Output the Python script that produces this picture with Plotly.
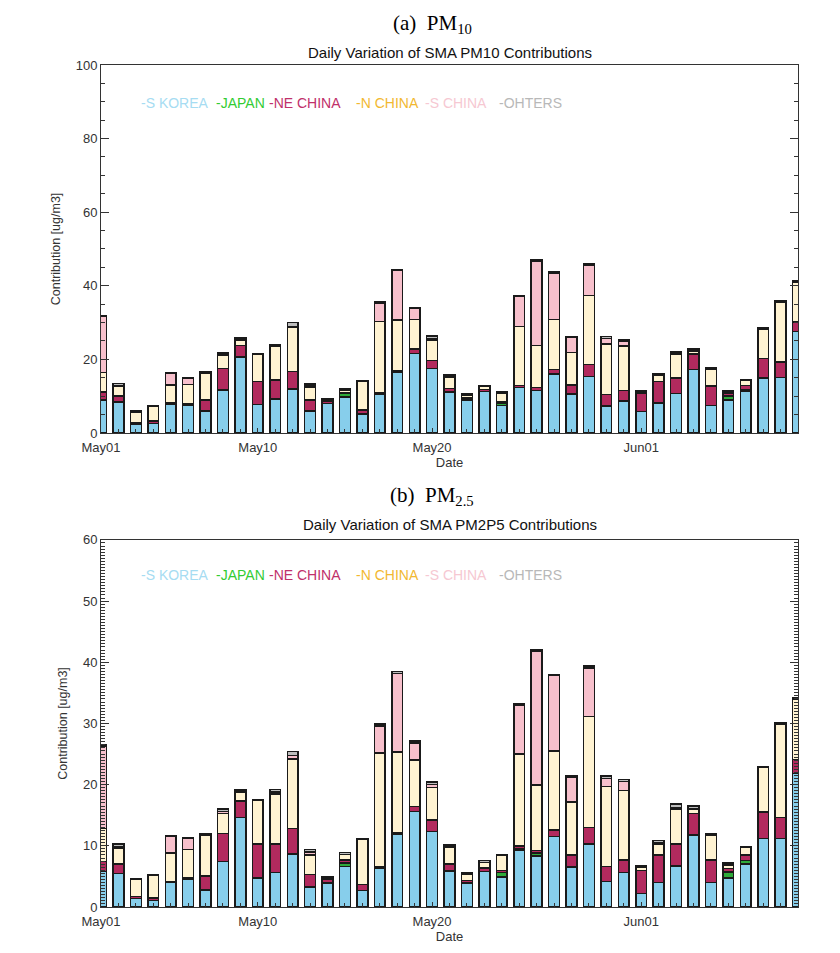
import plotly.graph_objects as go

dates = ["2016-05-01", "2016-05-02", "2016-05-03", "2016-05-04", "2016-05-05", "2016-05-06",
         "2016-05-07", "2016-05-08", "2016-05-09", "2016-05-10", "2016-05-11", "2016-05-12",
         "2016-05-13", "2016-05-14", "2016-05-15", "2016-05-16", "2016-05-17", "2016-05-18",
         "2016-05-19", "2016-05-20", "2016-05-21", "2016-05-22", "2016-05-23", "2016-05-24",
         "2016-05-25", "2016-05-26", "2016-05-27", "2016-05-28", "2016-05-29", "2016-05-30",
         "2016-05-31", "2016-06-01", "2016-06-02", "2016-06-03", "2016-06-04", "2016-06-05",
         "2016-06-06", "2016-06-07", "2016-06-08", "2016-06-09", "2016-06-10"]
tick_dates = ["2016-05-01", "2016-05-10", "2016-05-20", "2016-06-01"]
tick_labels = ["May01", "May10", "May20", "Jun01"]

sources = ["S KOREA", "JAPAN", "NE CHINA", "N CHINA", "S CHINA", "OHTERS"]

pm10_skorea = [8.9, 8.4, 2.5, 2.6, 7.8, 7.6, 5.9, 11.7, 20.7, 7.8, 9.2, 12.0, 6.0, 8.0, 9.8, 5.1, 10.6, 16.6, 21.6, 17.5, 11.1,
               8.9, 11.3, 7.4, 12.3, 11.6, 16.0, 10.6, 15.3, 7.3, 8.7, 5.8, 8.2, 10.7, 17.3, 7.4, 8.9, 11.4, 14.9, 15.1, 27.6]
pm10_japan = [0, 0.2, 0, 0, 0, 0, 0, 0, 0, 0, 0, 0, 0, 0, 0.9, 0, 0, 0, 0, 0, 0,
              0, 0, 0.8, 0, 0, 0, 0, 0, 0, 0, 0, 0, 0, 0, 0, 1.2, 0.3, 0, 0, 0]
pm10_nechina = [2.2, 1.4, 0.3, 0.6, 0.3, 0.3, 3.0, 5.8, 3.1, 6.2, 5.2, 4.7, 2.9, 0.6, 0.3, 1.2, 0.3, 0.2, 1.2, 2.2, 1.0,
                0.6, 0.5, 0.3, 0.6, 0.8, 1.3, 2.4, 3.3, 3.1, 2.9, 4.9, 5.8, 4.2, 4.2, 5.3, 0.7, 1.2, 5.3, 4.2, 2.6]
pm10_nchina = [5.3, 2.6, 2.9, 4.0, 5.0, 5.3, 7.2, 3.6, 1.5, 7.3, 9.2, 12.0, 3.4, 0.4, 0.6, 7.7, 19.4, 13.9, 8.0, 5.6, 3.1,
               0.8, 0.8, 2.4, 16.0, 11.4, 13.5, 8.9, 18.8, 13.8, 12.0, 0.4, 1.8, 6.4, 0.7, 4.5, 0.6, 1.3, 8.0, 16.3, 10.7]
pm10_schina = [15.2, 0.3, 0, 0, 3.0, 1.6, 0.1, 0.3, 0.3, 0, 0.1, 0.2, 0.5, 0, 0, 0, 5.0, 13.4, 3.0, 0.4, 0.2,
               0, 0, 0, 8.2, 23.0, 12.6, 4.0, 8.3, 1.5, 1.4, 0, 0, 0.3, 0.3, 0, 0, 0, 0, 0.2, 0.2]
pm10_others = [0.3, 0.6, 0.2, 0.3, 0.3, 0.2, 0.3, 0.5, 0.4, 0.2, 0.3, 1.1, 0.5, 0.3, 0.4, 0.2, 0.3, 0.3, 0.2, 0.6, 0.3,
               0.3, 0.3, 0.2, 0.3, 0.4, 0.4, 0.3, 0.4, 0.5, 0.3, 0.3, 0.4, 0.4, 0.3, 0.4, 0.2, 0.2, 0.3, 0.2, 0.3]

pm25_skorea = [5.8, 5.5, 1.4, 1.1, 4.0, 4.5, 2.8, 7.4, 14.6, 4.7, 5.6, 8.7, 3.3, 3.9, 6.6, 2.7, 6.4, 11.9, 15.6, 12.3, 5.9,
               3.9, 5.8, 4.9, 9.2, 8.3, 11.5, 6.5, 10.3, 4.2, 5.6, 2.2, 4.0, 6.7, 11.8, 4.0, 4.7, 7.0, 11.2, 11.2, 21.8]
pm25_japan = [0, 0, 0, 0, 0, 0, 0, 0, 0, 0, 0, 0, 0, 0, 0.6, 0, 0, 0, 0, 0, 0,
              0, 0, 0.7, 0.3, 0.5, 0, 0, 0, 0, 0, 0, 0, 0, 0, 0, 1.0, 0.6, 0, 0, 0]
pm25_nechina = [1.6, 1.5, 0.3, 0.4, 0.2, 0.2, 2.3, 4.6, 2.7, 5.6, 4.7, 4.1, 2.0, 0.6, 0.5, 1.0, 0.2, 0.3, 0.8, 1.9, 1.1,
                0.4, 0.6, 0.4, 0.5, 0.4, 1.1, 2.0, 2.7, 2.4, 2.1, 3.8, 4.5, 3.6, 3.5, 3.7, 0.6, 0.9, 4.3, 3.4, 2.3]
pm25_nchina = [5.4, 2.6, 2.8, 3.7, 4.6, 4.7, 6.7, 3.3, 1.5, 7.1, 8.2, 11.4, 3.2, 0.2, 0.9, 7.3, 18.6, 13.1, 7.6, 5.3, 2.8,
               1.1, 0.9, 2.4, 15.0, 10.7, 12.9, 8.7, 18.1, 13.1, 11.3, 0.5, 1.8, 5.6, 0.6, 4.1, 0.6, 1.2, 7.3, 15.3, 9.9]
pm25_schina = [13.5, 0.2, 0, 0, 2.7, 1.8, 0, 0.3, 0.2, 0, 0.3, 0.6, 0.5, 0, 0, 0, 4.4, 12.9, 2.8, 0.5, 0.1,
               0, 0, 0, 8.0, 21.9, 12.3, 4.0, 8.0, 1.3, 1.5, 0, 0.2, 0.3, 0.2, 0, 0, 0, 0, 0, 0]
pm25_others = [0.2, 0.5, 0.1, 0.1, 0.2, 0.1, 0.2, 0.4, 0.2, 0.2, 0.4, 0.6, 0.4, 0.2, 0.3, 0.2, 0.3, 0.3, 0.3, 0.4, 0.2,
               0.2, 0.3, 0.1, 0.2, 0.3, 0.2, 0.2, 0.3, 0.4, 0.3, 0.3, 0.4, 0.6, 0.4, 0.2, 0.3, 0.2, 0.2, 0.2, 0.2]

bar_colors = ["#87CEEB", "#2EAA3A", "#B22A5E", "#FFF3D2", "#F7C0CC", "#BDBDBD"]
legend_colors = ["#A6DCF2", "#33CC33", "#C0306A", "#F2B830", "#F6C8D2", "#B8B8B8"]
legend_x = ["2016-05-03 05:00", "2016-05-07 12:00", "2016-05-10 12:00", "2016-05-15 12:00",
            "2016-05-19 11:00", "2016-05-23 17:00"]

pm10 = [pm10_skorea, pm10_japan, pm10_nechina, pm10_nchina, pm10_schina, pm10_others]
pm25 = [pm25_skorea, pm25_japan, pm25_nechina, pm25_nchina, pm25_schina, pm25_others]

DAY = 86400000
fig = go.Figure()
for data, xa, ya in [(pm10, "x", "y"), (pm25, "x2", "y2")]:
    for name, vals, col in zip(sources, data, bar_colors):
        fig.add_trace(go.Bar(x=dates, y=vals, name=name, xaxis=xa, yaxis=ya,
                             width=[0.62 * DAY] * len(dates),
                             marker=dict(color=col, line=dict(color="#1a1a1a", width=1.5)),
                             showlegend=False))

font_sans = "Liberation Sans, Arial, sans-serif"
font_serif = "Liberation Serif, Times New Roman, serif"
xcommon = dict(type="date", range=["2016-05-01", "2016-06-10"], tickvals=tick_dates, ticktext=tick_labels,
               ticks="inside", ticklen=5, tickcolor="#333", showline=True, linecolor="#333", linewidth=1,
               mirror=True, showgrid=False, zeroline=False, ticklabelstandoff=2,
               minor=dict(dtick=DAY, ticks="inside", ticklen=4, tickcolor="#333", showgrid=False),
               tickfont=dict(family=font_sans, size=13, color="#333"),
               title=dict(text="Date", font=dict(family=font_sans, size=13, color="#333"), standoff=0))
ycommon = dict(ticks="inside", ticklen=8, tickcolor="#333", showline=True, linecolor="#333", linewidth=1,
               mirror="ticks", showgrid=False, zeroline=False,
               tickfont=dict(family=font_sans, size=13, color="#333"),
               title=dict(text="Contribution [ug/m3]", font=dict(family=font_sans, size=12.5, color="#333"), standoff=12))

fig.update_layout(
    width=840, height=953, plot_bgcolor="white", paper_bgcolor="white",
    margin=dict(l=93, r=50, t=57, b=54),
    barmode="stack",
    xaxis=dict(anchor="y", domain=[0, 1], **xcommon),
    xaxis2=dict(anchor="y2", domain=[0, 1], **xcommon),
    yaxis=dict(anchor="x", domain=[0.563, 1.0], range=[0, 100], tickvals=[0, 20, 40, 60, 80, 100],
               minor=dict(dtick=5, ticks="inside", ticklen=4, tickcolor="#333", showgrid=False), **ycommon),
    yaxis2=dict(anchor="x2", domain=[0, 0.436], range=[0, 60], tickvals=[0, 10, 20, 30, 40, 50, 60],
                minor=dict(dtick=0.5, ticks="inside", ticklen=4, tickcolor="#333", showgrid=False), **ycommon),
)

ann = []
ann.append(dict(text="(a)&nbsp; PM<sub>10</sub>", x=0.475, y=1.049, xref="paper", yref="paper", showarrow=False,
                xanchor="center", yanchor="middle", font=dict(family=font_serif, size=21, color="#000")))
ann.append(dict(text="Daily Variation of SMA PM10 Contributions", x=0.5, y=1.0154, xref="paper", yref="paper",
                showarrow=False, xanchor="center", yanchor="middle", font=dict(family=font_sans, size=15, color="#111")))
ann.append(dict(text="(b)&nbsp; PM<sub>2.5</sub>", x=0.475, y=0.4885, xref="paper", yref="paper", showarrow=False,
                xanchor="center", yanchor="middle", font=dict(family=font_serif, size=21, color="#000")))
ann.append(dict(text="Daily Variation of SMA PM2P5 Contributions", x=0.5, y=0.4545, xref="paper", yref="paper",
                showarrow=False, xanchor="center", yanchor="middle", font=dict(family=font_sans, size=15, color="#111")))
for name, col, lx in zip(sources, legend_colors, legend_x):
    for xr, yr, yv in [("x", "y", 89.7), ("x2", "y2", 54.2)]:
        ann.append(dict(text="-" + name, x=lx, y=yv, xref=xr, yref=yr, showarrow=False, xanchor="left",
                        yanchor="middle", font=dict(family=font_sans, size=14, color=col)))
fig.update_layout(annotations=ann)

fig.write_html("out.html")
